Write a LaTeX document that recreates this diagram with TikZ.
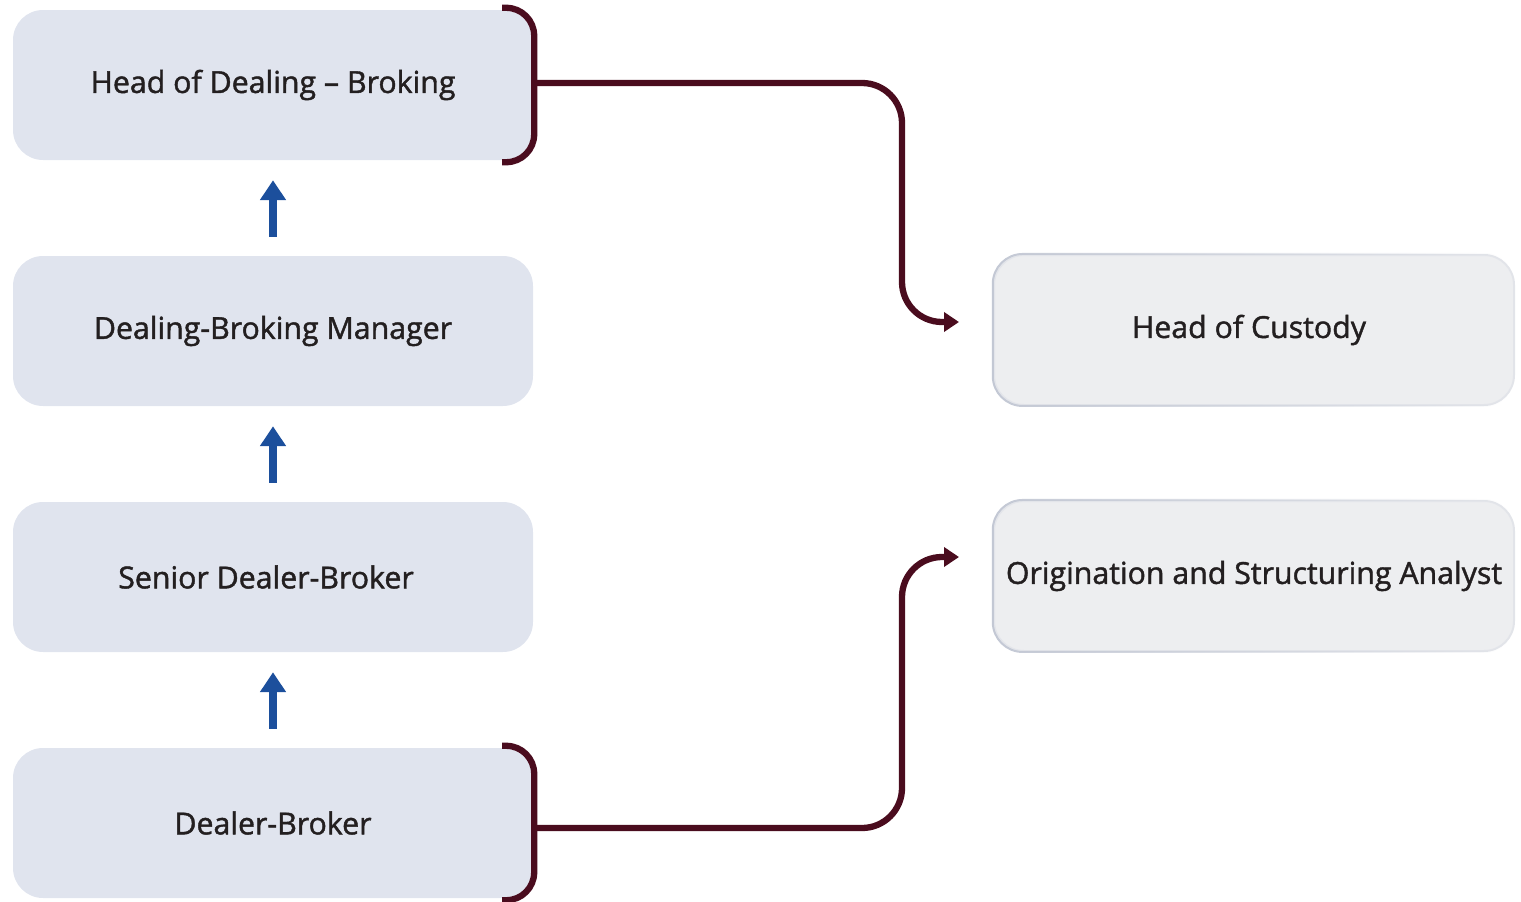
\documentclass[tikz,border=0pt]{standalone}
\usepackage{fontspec}
\setmainfont{Open Sans}[FakeBold=1.4]
\usetikzlibrary{arrows.meta,fadings}
\definecolor{roleL}{HTML}{E0E4EE}
\definecolor{roleR}{HTML}{EDEEF0}
\definecolor{roleRline}{HTML}{E3E5EA}
\definecolor{roleRedge}{HTML}{C3C8D4}
\definecolor{maroon}{HTML}{4A0C1E}
\definecolor{upblue}{HTML}{1C4F9C}
\definecolor{ink}{HTML}{231F20}
\tikzset{
  rolebox/.style={rectangle, rounded corners=30pt, minimum width=520pt,
    minimum height=150pt, inner sep=0pt, text=ink,
    font=\fontsize{30.3}{35}\selectfont},
  leftbox/.style={rolebox, fill=roleL},
  rightbox/.style={rolebox, fill=roleR, draw=roleRline, line width=2pt},
  edgeglow/.style={draw=roleRedge, line width=2pt, rounded corners=30pt,
    path fading=east},
  bracket/.style={draw=maroon, line width=6.3pt, rounded corners=28pt},
  link/.style={draw=maroon, line width=6.3pt, rounded corners=40pt,
    -{Triangle[length=15pt,width=19pt]}},
  promote/.style={draw=upblue, line width=8pt,
    -{Triangle[length=20pt,width=25pt]}}
}
\begin{document}
\begin{tikzpicture}[x=1pt,y=1pt]
\useasboundingbox (0,0) rectangle (1521,-902);

% career ladder on the left
\node[leftbox] (b1) at (273,-85)  {Head of Dealing – Broking};
\node[leftbox] (b2) at (273,-331) {Dealing-Broking Manager};
\node[leftbox] (b3) at (273,-577) {Senior Dealer-Broker\hspace*{14pt}};
\node[leftbox] (b4) at (273,-823) {Dealer-Broker};

% sideways moves on the right
\node[rightbox] (c1) at (1254,-330) {Head of Custody\hspace*{10pt}};
\node[rightbox] (c2) at (1254,-576) {Origination and Structuring Analyst};

% darker rim on the left side of the right-hand boxes
\path[edgeglow] (c1.north west) rectangle (c1.south east);
\path[edgeglow] (c2.north west) rectangle (c2.south east);

% upward promotion arrows
\draw[promote] ([yshift=19pt]b2.north) -- ([yshift=-20pt]b1.south);
\draw[promote] ([yshift=19pt]b3.north) -- ([yshift=-20pt]b2.south);
\draw[promote] ([yshift=19pt]b4.north) -- ([yshift=-20pt]b3.south);

% brackets hugging the right side of the top and bottom boxes
\draw[bracket] ([xshift=-31pt,yshift=2pt]b1.north east) -- ([xshift=1pt,yshift=2pt]b1.north east)
  -- ([xshift=1pt,yshift=-2pt]b1.south east) -- ([xshift=-31pt,yshift=-2pt]b1.south east);
\draw[bracket] ([xshift=-31pt,yshift=2pt]b4.north east) -- ([xshift=1pt,yshift=2pt]b4.north east)
  -- ([xshift=1pt,yshift=-2pt]b4.south east) -- ([xshift=-31pt,yshift=-2pt]b4.south east);

% connector end points
\coordinate (s1) at ([xshift=3pt,yshift=2pt]b1.east);
\coordinate (s2) at ([xshift=3pt,yshift=-5pt]b4.east);
\coordinate (t1) at ([xshift=-34pt,yshift=8pt]c1.west);
\coordinate (t2) at ([xshift=-34pt,yshift=19pt]c2.west);

\draw[link] (s1) -- (s1 -| 902,0) -- (t1 -| 902,0) -- (t1);
\draw[link] (s2) -- (s2 -| 902,0) -- (t2 -| 902,0) -- (t2);
\end{tikzpicture}
\end{document}
